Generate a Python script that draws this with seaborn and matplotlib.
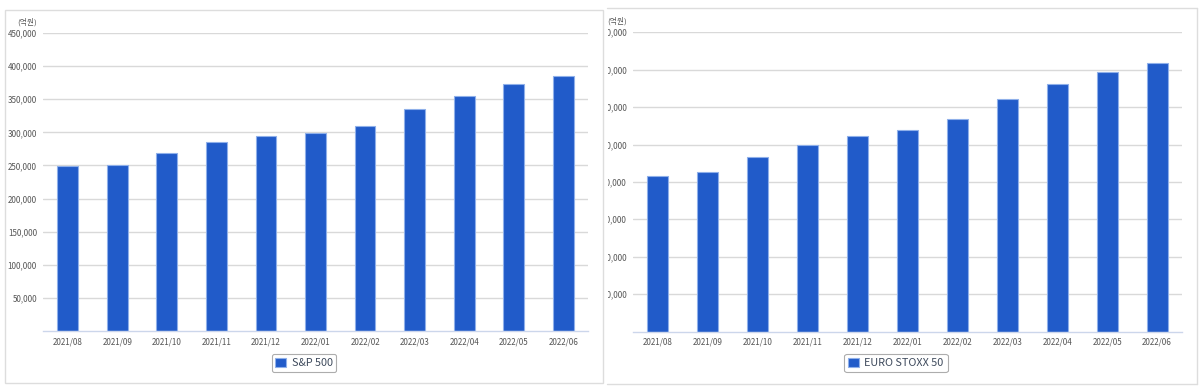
import matplotlib
matplotlib.use("Agg")
import matplotlib.pyplot as plt
import pandas as pd
import seaborn as sns
from matplotlib.patches import Rectangle
from matplotlib.lines import Line2D
from matplotlib.transforms import Bbox, TransformedBbox

# data
months = ['2021/08', '2021/09', '2021/10', '2021/11', '2021/12', '2022/01',
          '2022/02', '2022/03', '2022/04', '2022/05', '2022/06']
sp500 = [248500, 250500, 269000, 285500, 294000, 299000,
         309500, 335000, 354500, 372500, 384500]
eurostoxx = [41700, 42700, 46600, 50000, 52400, 54000,
             56700, 62100, 66300, 69500, 71900]
sp_ticks = list(range(50000, 450001, 50000))
eu_ticks = list(range(10000, 80001, 10000))
unit_label = '(억원)'

BAR = '#215bc9'
EDGE = '#8fb0ea'
GRID = '#d9d9d9'
TXT = '#555555'

sns.set_style('white')
plt.rcParams['font.family'] = ['Noto Sans CJK KR', 'DejaVu Sans']

W, H = 1200, 389
fig = plt.figure(figsize=(12, 3.89), dpi=100)


def fx(px):
    return px / W


def fy(py):
    return 1 - py / H


def bar_panel(ax, values, ticks, top, name, legend_x):
    df = pd.DataFrame({'month': months, 'value': values})
    sns.barplot(data=df, x='month', y='value', ax=ax, color=BAR, width=0.42,
                edgecolor=EDGE, linewidth=0.8, saturation=1, label=name)
    ax.set_ylim(0, top)
    ax.set_yticks(ticks)
    ax.set_yticklabels([f'{t:,}' for t in ticks])
    ax.set_xlabel('')
    ax.set_ylabel('')
    ax.grid(axis='y', color=GRID, linewidth=1)
    ax.set_axisbelow(True)
    for s in ['top', 'right', 'left']:
        ax.spines[s].set_visible(False)
    ax.spines['bottom'].set_color('#ccd6eb')
    ax.spines['bottom'].set_linewidth(1)
    ax.tick_params(axis='x', length=3, width=0.8, color='#ccd6eb',
                   pad=1.5, labelsize=5.8, labelcolor=TXT)
    ax.tick_params(axis='y', length=0, pad=4.3, labelsize=5.8, labelcolor=TXT)
    leg = ax.legend(loc='center', bbox_to_anchor=(fx(legend_x), fy(363)),
                    bbox_transform=fig.transFigure, fontsize=7.8,
                    frameon=True, fancybox=True, edgecolor='#999999',
                    handlelength=1.0, handleheight=1.0, handletextpad=0.5,
                    borderpad=0.35, borderaxespad=0)
    for t in leg.get_texts():
        t.set_color('#3e4a5c')
    leg.get_frame().set_linewidth(0.8)


# left panel: S&P 500
ax1 = fig.add_axes([fx(43), fy(331), fx(545), 298 / H])
bar_panel(ax1, sp500, sp_ticks, 450000, 'S&P 500', 304)
fig.text(fx(36.5), fy(22), unit_label, ha='right', va='center',
         fontsize=5.6, color=TXT)

# right panel: EURO STOXX 50 (cut off on the left like the screenshot)
ax2 = fig.add_axes([fx(633), fy(331.5), fx(549), 299.2 / H])
bar_panel(ax2, eurostoxx, eu_ticks, 80000, 'EURO STOXX 50', 896)
clip = TransformedBbox(Bbox.from_extents(fx(607.5), 0, 1, 1), fig.transFigure)
for tick in ax2.yaxis.get_major_ticks():
    tick.label1.set_clip_on(True)
    tick.label1.set_clip_box(clip)
fig.text(fx(627), fy(21.5), unit_label, ha='right', va='center',
         fontsize=5.6, color=TXT)

# panel borders
fig.patches.append(Rectangle((fx(5), fy(383)), fx(598), (383 - 10) / H,
                             transform=fig.transFigure, fill=False,
                             edgecolor='#dddddd', linewidth=1))
for xs, ys in [([607, 1197], [8, 8]), ([1197, 1197], [8, 384]),
               ([607, 1197], [384, 384])]:
    fig.lines.append(Line2D([fx(v) for v in xs], [fy(v) for v in ys],
                            transform=fig.transFigure, color='#dddddd',
                            linewidth=1))

fig.savefig('out.png', dpi=100)
